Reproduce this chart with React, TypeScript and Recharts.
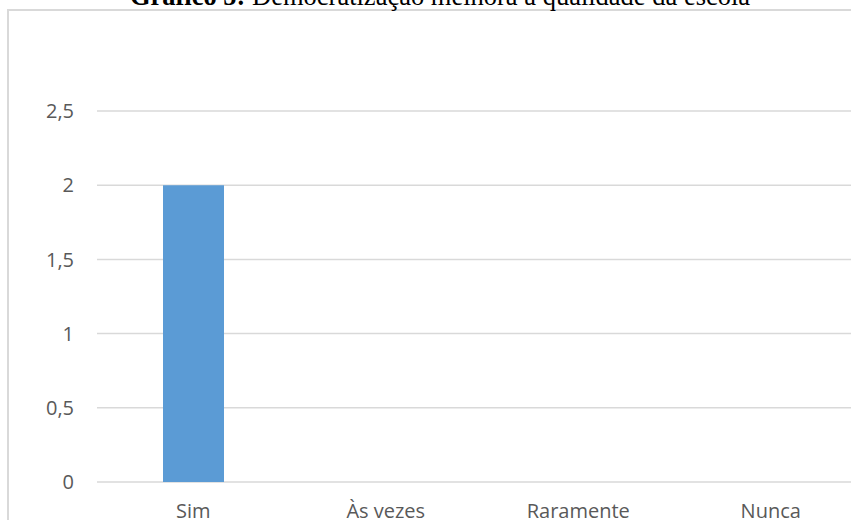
import React from "react";
import { BarChart, Bar, XAxis, YAxis, CartesianGrid } from "recharts";

const categories = ["Sim", "Às vezes", "Raramente", "Nunca"];
const values = [2, 0, 0, 0];
const yTicks = [0, 0.5, 1, 1.5, 2, 2.5];

const data = categories.map((name, i) => ({ name, value: values[i] }));

const tickStyle = { fill: "#595959", fontSize: 20, fontFamily: "'Open Sans', sans-serif" };

const App = () => {
  return (
    <div
      style={{
        position: "absolute",
        left: 0,
        top: 0,
        width: 851,
        height: 520,
        overflow: "hidden",
        background: "#fff",
      }}
    >
      <div
        style={{
          position: "absolute",
          left: 7,
          top: 9,
          width: 1000,
          height: 1000,
          border: "2px solid #d9d9d9",
        }}
      />
      <svg
        width={851}
        height={30}
        style={{ position: "absolute", left: 0, top: 0 }}
      >
        <text
          x={440}
          y={5}
          textAnchor="middle"
          fontFamily="'Liberation Serif', 'Times New Roman', serif"
          fontSize={26.5}
          fill="#000"
        >
          <tspan fontWeight="bold">Gráfico 5:</tspan> Democratização melhora a qualidade da escola
        </text>
      </svg>
      <BarChart
        width={900}
        height={540}
        data={data}
        margin={{ top: 111, right: 33, left: 0, bottom: 0 }}
        style={{ position: "absolute", left: 0, top: 0 }}
      >
        <CartesianGrid vertical={false} stroke="#d9d9d9" strokeWidth={1.5} />
        <XAxis
          dataKey="name"
          axisLine={false}
          tickLine={false}
          tickSize={0}
          tickMargin={22}
          height={58}
          tick={tickStyle}
          interval={0}
        />
        <YAxis
          domain={[0, 2.5]}
          ticks={yTicks}
          axisLine={false}
          tickLine={false}
          tickSize={0}
          tickMargin={23}
          width={97}
          tick={tickStyle}
          tickFormatter={(v: number) => String(v).replace(".", ",")}
        />
        <Bar dataKey="value" fill="#5b9bd5" barSize={61} isAnimationActive={false} />
      </BarChart>
    </div>
  );
};

export default App;
